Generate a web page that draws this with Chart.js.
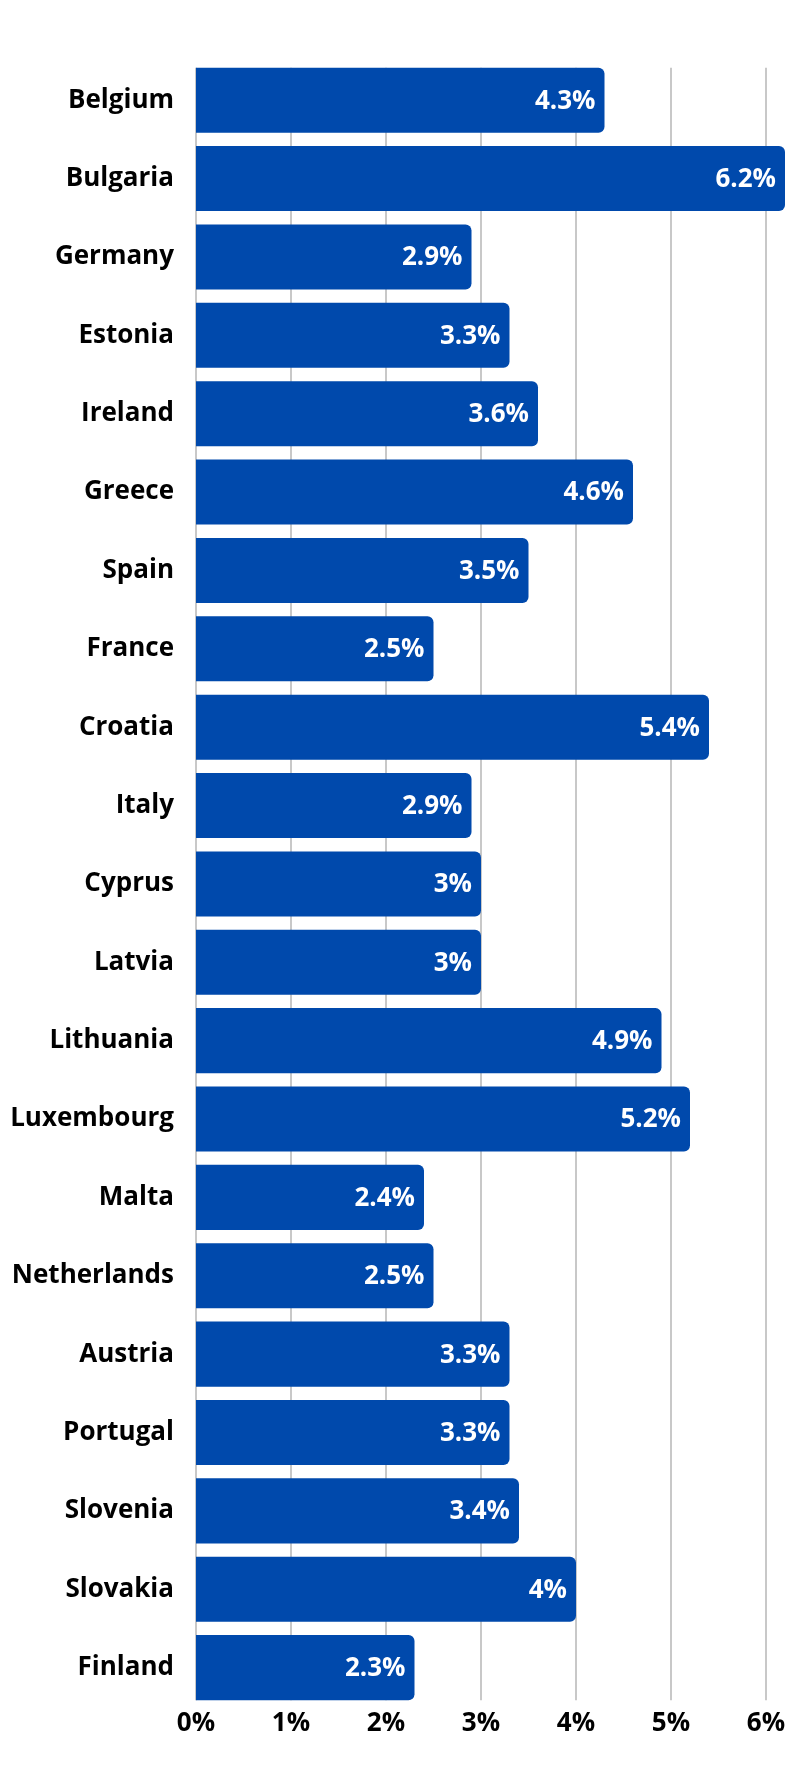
<!DOCTYPE html>
<html>
<head>
<meta charset="utf-8">
<script src="https://cdn.jsdelivr.net/npm/chart.js@4/dist/chart.umd.min.js"></script>
<style>
  html, body { margin: 0; padding: 0; background: #fff; }
  #wrap { width: 800px; height: 1791px; position: relative; }
</style>
</head>
<body>
<div id="wrap"><canvas id="myChart"></canvas></div>
<script>
var countries = [
    'Belgium', 'Bulgaria', 'Germany', 'Estonia', 'Ireland', 'Greece', 'Spain',
    'France', 'Croatia', 'Italy', 'Cyprus', 'Latvia', 'Lithuania', 'Luxembourg',
    'Malta', 'Netherlands', 'Austria', 'Portugal', 'Slovenia', 'Slovakia', 'Finland'
];
var rates = [4.3, 6.2, 2.9, 3.3, 3.6, 4.6, 3.5, 2.5, 5.4, 2.9, 3, 3, 4.9, 5.2, 2.4, 2.5, 3.3, 3.3, 3.4, 4, 2.3];
var xTicks = [0, 1, 2, 3, 4, 5, 6];

var FONT = "'Open Sans', 'DejaVu Sans', sans-serif";

// grid lines only span from the first bar top to the last bar bottom
var gridLines = {
    id: 'gridLines',
    beforeDatasetsDraw: function (chart) {
        var meta = chart.getDatasetMeta(0);
        var first = meta.data[0], last = meta.data[meta.data.length - 1];
        var top = first.y - first.height / 2;
        var bottom = last.y + last.height / 2;
        var x = chart.scales.x;
        var c = chart.ctx;
        c.save();
        c.strokeStyle = '#c8c8c8';
        c.lineWidth = 2;
        x.ticks.forEach(function (t) {
            var px = Math.round(x.getPixelForValue(t.value));
            c.beginPath();
            c.moveTo(px, top);
            c.lineTo(px, bottom);
            c.stroke();
        });
        c.restore();
    }
};

var valueLabels = {
    id: 'valueLabels',
    afterDatasetsDraw: function (chart) {
        var meta = chart.getDatasetMeta(0);
        var c = chart.ctx;
        c.save();
        c.fillStyle = '#fff';
        c.font = 'bold 26px ' + FONT;
        c.textAlign = 'right';
        c.textBaseline = 'middle';
        meta.data.forEach(function (bar, i) {
            c.fillText(rates[i] + '%', bar.x - 9, bar.y + 1);
        });
        c.restore();
    }
};

var ctx = document.getElementById('myChart').getContext('2d');
var myChart = new Chart(ctx, {
    type: 'bar',
    data: {
        labels: countries,
        datasets: [{
            data: rates,
            backgroundColor: '#0049ac',
            borderRadius: 6,
            borderSkipped: 'start',
            barPercentage: 0.83,
            categoryPercentage: 1
        }]
    },
    options: {
        indexAxis: 'y',
        responsive: true,
        maintainAspectRatio: false,
        animation: false,
        layout: { padding: { top: 61, right: 15, bottom: 51, left: 0 } },
        plugins: {
            legend: { display: false },
            tooltip: { enabled: false }
        },
        scales: {
            x: {
                min: 0,
                max: 6.2,
                afterBuildTicks: function (scale) {
                    scale.ticks = xTicks.map(function (v) { return { value: v }; });
                },
                grid: { display: false, drawTicks: false },
                border: { display: false },
                ticks: {
                    color: '#000',
                    padding: 1,
                    maxRotation: 0,
                    font: { family: FONT, size: 26, weight: 'bold' },
                    callback: function (v) { return v + '%'; }
                }
            },
            y: {
                grid: { display: false, drawTicks: false },
                border: { display: false },
                afterFit: function (scale) { scale.width = 196; },
                ticks: {
                    color: '#000',
                    padding: 22,
                    autoSkip: false,
                    font: { family: FONT, size: 26, weight: 'bold' }
                }
            }
        }
    },
    plugins: [gridLines, valueLabels]
});
</script>
</body>
</html>
